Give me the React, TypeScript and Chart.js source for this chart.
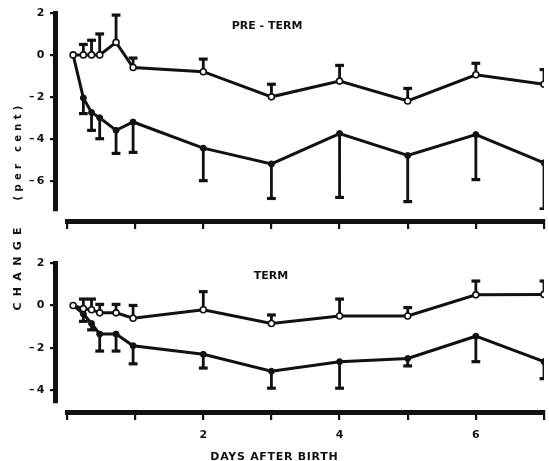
import React, { useEffect, useRef } from "react";
import { Chart, registerables } from "chart.js";

Chart.register(...registerables);

// ---- data (days after birth) ----
const days = [0.09, 0.24, 0.36, 0.48, 0.72, 0.97, 2, 3, 4, 5, 6, 7];

// PRE-TERM panel
const preOpen = [0, 0, 0, 0, 0.6, -0.6, -0.8, -2.0, -1.25, -2.2, -0.95, -1.4];
const preOpenCap = [null, 0.5, 0.7, 1.0, 1.9, -0.15, -0.2, -1.4, -0.5, -1.6, -0.4, -0.7];
const preFilled = [0, -2.05, -2.75, -3.0, -3.6, -3.2, -4.45, -5.2, -3.75, -4.8, -3.8, -5.15];
const preFilledCap = [null, -2.8, -3.6, -4.0, -4.7, -4.65, -6.0, -6.85, -6.8, -7.0, -5.95, -7.35];

// TERM panel
const termOpen = [0, -0.15, -0.2, -0.35, -0.35, -0.6, -0.2, -0.85, -0.5, -0.5, 0.5, 0.52];
const termOpenCap = [null, 0.3, 0.3, 0.05, 0.05, 0.0, 0.65, -0.45, 0.3, -0.1, 1.15, 1.15];
const termFilled = [0, -0.4, -0.85, -1.35, -1.35, -1.9, -2.3, -3.1, -2.65, -2.5, -1.45, -2.65];
const termFilledCap = [null, -0.75, -1.15, -2.15, -2.15, -2.75, -2.95, -3.9, -3.9, -2.85, -2.65, -3.45];

// ticks
const xTickValues = [0, 1, 2, 3, 4, 5, 6, 7];
const xTickLabels = ["", "", "2", "", "4", "", "6", ""];
const preYTicks = [2, 0, -2, -4, -6];
const termYTicks = [2, 0, -2, -4];

const FONT_FAMILY = "'DejaVu Sans', sans-serif";
const INK = "#111";

type Pt = { x: number; y: number | null };

function pts(xs: number[], ys: number[]): Pt[] {
  return xs.map((x, i) => ({ x, y: ys[i] }));
}

function whiskers(xs: number[], ys: number[], caps: (number | null)[]): Pt[] {
  const out: Pt[] = [];
  xs.forEach((x, i) => {
    const c = caps[i];
    if (c === null || c === undefined) return;
    out.push({ x, y: ys[i] }, { x, y: c }, { x, y: null });
  });
  return out;
}

function fmtY(v: number): string {
  return v < 0 ? "\u2013\u2009" + Math.abs(v) : String(v);
}

type PanelProps = {
  open: number[];
  openCap: (number | null)[];
  filled: number[];
  filledCap: (number | null)[];
  yMin: number;
  yMax: number;
  yTicks: number[];
  xAxisAt: number;
  yAxisAt: number;
  showXLabels: boolean;
  labelPadding: number;
  padding: { left: number; right: number; top: number; bottom: number };
  width: number;
  height: number;
  top: number;
};

function Panel(p: PanelProps) {
  const ref = useRef<HTMLCanvasElement | null>(null);
  useEffect(() => {
    if (!ref.current) return;
    const seriesCommon = {
      borderColor: INK,
      borderWidth: 3,
      pointBorderColor: INK,
      tension: 0,
    };
    const whiskerCommon = {
      borderColor: INK,
      borderWidth: 2.8,
      spanGaps: false,
      pointStyle: "line" as const,
      pointBorderColor: INK,
      pointBorderWidth: 3.2,
      pointRadius: (ctx: any) => (ctx.dataIndex % 3 === 1 ? 4.4 : 0),
      pointHoverRadius: 0,
    };
    const chart = new Chart(ref.current, {
      type: "line",
      data: {
        datasets: [
          {
            ...seriesCommon,
            data: pts(days, p.open),
            pointRadius: 3,
            pointBackgroundColor: "#fff",
            pointBorderWidth: 1.6,
            order: 0,
          },
          {
            ...seriesCommon,
            data: pts(days, p.filled),
            pointRadius: (ctx: any) => (ctx.dataIndex === 0 ? 0 : 3),
            pointBackgroundColor: INK,
            pointBorderWidth: 1,
            order: 1,
          },
          { ...whiskerCommon, data: whiskers(days, p.open, p.openCap), order: 2 },
          { ...whiskerCommon, data: whiskers(days, p.filled, p.filledCap), order: 3 },
        ] as any,
      },
      options: {
        animation: false,
        responsive: false,
        maintainAspectRatio: false,
        events: [],
        layout: { padding: p.padding, autoPadding: false },
        plugins: {
          legend: { display: false },
          tooltip: { enabled: false },
          title: { display: false },
        },
        scales: {
          x: {
            type: "linear",
            min: 0,
            max: 7,
            position: { y: p.xAxisAt } as any,
            afterBuildTicks: (s: any) => {
              s.ticks = xTickValues.map((v) => ({ value: v }));
            },
            ticks: {
              display: p.showXLabels,
              autoSkip: false,
              maxRotation: 0,
              padding: p.labelPadding,
              color: INK,
              font: { family: FONT_FAMILY, size: 11, weight: "bold" },
              callback: (v: any) => {
                const i = xTickValues.indexOf(Number(v));
                return i >= 0 ? xTickLabels[i] : "";
              },
            },
            grid: {
              drawOnChartArea: false,
              drawTicks: true,
              tickLength: 5,
              lineWidth: 2.2,
              color: INK,
            },
            border: { display: true, width: 5, color: INK },
          },
          y: {
            type: "linear",
            min: p.yMin,
            max: p.yMax,
            position: { x: p.yAxisAt } as any,
            afterBuildTicks: (s: any) => {
              s.ticks = p.yTicks.map((v) => ({ value: v }));
            },
            ticks: {
              autoSkip: false,
              color: INK,
              font: { family: FONT_FAMILY, size: 11, weight: "bold" },
              callback: (v: any) => fmtY(Number(v)) + "\u2003",
            },
            grid: {
              drawOnChartArea: false,
              drawTicks: true,
              tickLength: 3,
              lineWidth: 2.2,
              color: INK,
            },
            border: { display: true, width: 5, color: INK },
          },
        },
      } as any,
    });
    return () => chart.destroy();
  }, []);
  return (
    <canvas
      ref={ref}
      width={p.width}
      height={p.height}
      style={{ position: "absolute", left: 0, top: p.top, width: p.width, height: p.height, display: "block" }}
    />
  );
}

const textStyle: React.CSSProperties = {
  position: "absolute",
  fontFamily: FONT_FAMILY,
  fontWeight: "bold",
  fontSize: 11,
  lineHeight: "11px",
  color: INK,
  whiteSpace: "nowrap",
  transform: "translate(-50%, -50%)",
};

export default function App() {
  return (
    <div style={{ position: "absolute", left: 0, top: 0, width: 549, height: 461, background: "#fff", overflow: "hidden" }}>
      <Panel
        open={preOpen}
        openCap={preOpenCap}
        filled={preFilled}
        filledCap={preFilledCap}
        yMin={-7.4}
        yMax={2}
        yTicks={preYTicks}
        xAxisAt={-7.97}
        yAxisAt={-0.17}
        showXLabels={false}
        labelPadding={0}
        padding={{ left: 67, right: 5, top: 13, bottom: 20 }}
        width={549}
        height={230}
        top={0}
      />
      <Panel
        open={termOpen}
        openCap={termOpenCap}
        filled={termFilled}
        filledCap={termFilledCap}
        yMin={-4.55}
        yMax={2}
        yTicks={termYTicks}
        xAxisAt={-5.05}
        yAxisAt={-0.17}
        showXLabels={true}
        labelPadding={11}
        padding={{ left: 67, right: 11, top: 33, bottom: 59 }}
        width={555}
        height={231}
        top={230}
      />
      <div style={{ ...textStyle, left: 267, top: 25 }}>PRE - TERM</div>
      <div style={{ ...textStyle, left: 271, top: 275 }}>TERM</div>
      <div style={{ ...textStyle, left: 274, top: 456, letterSpacing: "0.7px", paddingLeft: "0.7px" }}>DAYS AFTER BIRTH</div>
      <div
        style={{
          ...textStyle,
          left: 17,
          top: 268.5,
          letterSpacing: "6.3px",
          paddingLeft: "6.3px",
          transform: "translate(-50%, -50%) rotate(-90deg)",
        }}
      >
        CHANGE
      </div>
      <div
        style={{
          ...textStyle,
          fontSize: 10,
          left: 17,
          top: 152.5,
          letterSpacing: "4.3px",
          paddingLeft: "4.3px",
          transform: "translate(-50%, -50%) rotate(-90deg)",
        }}
      >
        (per cent)
      </div>
    </div>
  );
}
